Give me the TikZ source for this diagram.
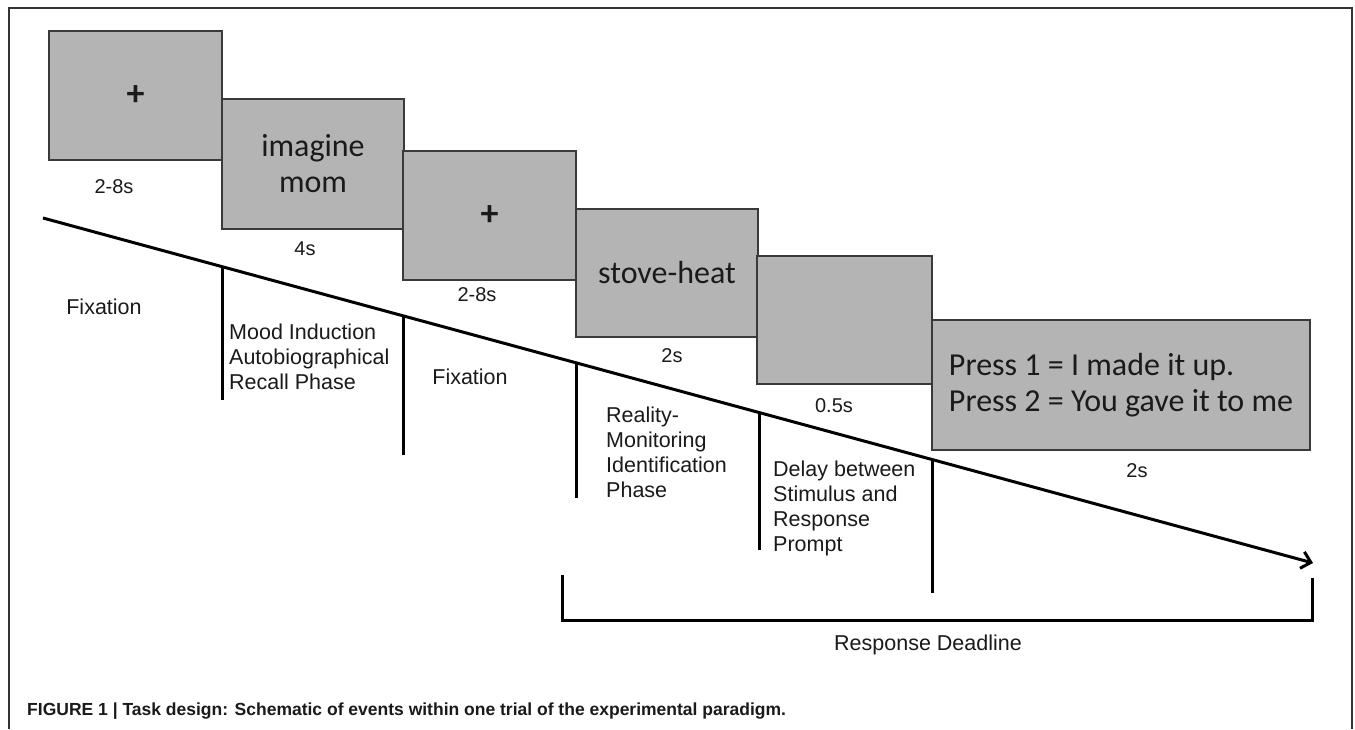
\documentclass[tikz,border=0pt]{standalone}
\usepackage{fontspec}
\setmainfont{Liberation Sans}
\newfontfamily\calib{Carlito}
\usetikzlibrary{arrows.meta}
\definecolor{boxfill}{HTML}{B4B4B4}
\definecolor{boxline}{HTML}{3A3A3A}
\definecolor{ink}{HTML}{1A1A1A}
\definecolor{framecol}{HTML}{333333}
\begin{document}
\begin{tikzpicture}[x=1pt,y=-1pt,
  screen/.style={draw=boxline, fill=boxfill, line width=2pt, inner sep=0pt,
    font=\calib\fontsize{32}{36}\selectfont, text=ink},
  plus/.style={font=\calib\bfseries\fontsize{36}{36}\selectfont},
  dur/.style={font=\fontsize{20}{24}\selectfont, anchor=base, inner sep=0pt, text=ink},
  phase/.style={font=\fontsize{21.5}{25}\selectfont, anchor=north west, align=left,
    inner sep=0pt, text=ink},
  phaseone/.style={font=\fontsize{21.5}{25}\selectfont, anchor=base, inner sep=0pt, text=ink},
  timeline/.style={line width=3pt, black},
  tickline/.style={line width=3pt, black, line join=miter},
]
\useasboundingbox (0,0) rectangle (1355,729);
\fill[white] (0,0) rectangle (1355,729);

% frame
\coordinate (f1) at (9,729);
\coordinate (f2) at (9,8);
\coordinate (f3) at (1352,8);
\coordinate (f4) at (1352,729);
\draw[framecol, line width=1.5pt] (f1) -- (f2) -- (f3) -- (f4);

% screens
\node[screen, plus, minimum width=173pt, minimum height=129pt] (s1) at (135.5,95.5) {+};
\node[screen, minimum width=182pt, minimum height=130pt, align=center] (s2) at (313,164) {imagine\\mom};
\node[screen, plus, minimum width=173pt, minimum height=129pt] (s3) at (489.5,215.5) {+};
\node[screen, minimum width=182pt, minimum height=128pt] (s4) at (667,273) {stove-heat};
\node[screen, minimum width=175pt, minimum height=128pt] (s5) at (844.5,320) {};
\node[screen, minimum width=378pt, minimum height=130pt, align=left] (s6) at (1121,385)
  {Press 1 = I made it up.\\Press 2 = You gave it to me};

% durations
\node[dur] (d1) at (114,193) {2-8s};
\node[dur] (d2) at (305,255) {4s};
\node[dur] (d3) at (477,301) {2-8s};
\node[dur] (d4) at (672,362) {2s};
\node[dur] (d5) at (834,412) {0.5s};
\node[dur] (d6) at (1137,477) {2s};

% timeline
\coordinate (ls) at (43,218);
\coordinate (le) at (1313,563);
\draw[timeline, -{Straight Barb[length=9pt,width=17pt,line width=3pt]}] (ls) -- (le);

% ticks
\coordinate (t1a) at (222,266.6); \coordinate (t1b) at (222,400);
\coordinate (t2a) at (403,315.8); \coordinate (t2b) at (403,455);
\coordinate (t3a) at (576,362.8); \coordinate (t3b) at (576,498);
\coordinate (t4a) at (759,412.5); \coordinate (t4b) at (759,550);
\coordinate (t5a) at (932,459.5); \coordinate (t5b) at (932,593);
\draw[tickline] (t1a) -- (t1b);
\draw[tickline] (t2a) -- (t2b);
\draw[tickline] (t3a) -- (t3b);
\draw[tickline] (t4a) -- (t4b);
\draw[tickline] (t5a) -- (t5b);

% phase labels
\node[phaseone] (p1) at (104,314.5) {Fixation};
\node[phase] (p2) at (229,324) {Mood Induction\\Autobiographical\\Recall Phase};
\node[phaseone] (p3) at (470,384.5) {Fixation};
\node[phase] (p4) at (606,407) {Reality-\\Monitoring\\Identification\\Phase};
\node[phase] (p5) at (773,461) {Delay between\\Stimulus and\\Response\\Prompt};

% bracket
\coordinate (bl) at (562,575);
\coordinate (blb) at (562,620);
\coordinate (brb) at (1312,620);
\coordinate (br) at (1312,578);
\draw[tickline] (bl) -- (blb) -- (brb) -- (br);
\node[dur, font=\fontsize{21.5}{24}\selectfont] (rd) at (928,650) {Response Deadline};

% caption
\node[anchor=base west, inner sep=0pt, text=ink, font=\bfseries\fontsize{17.5}{20}\selectfont] (cap) at (27,715)
  {FIGURE 1 | Task design: Schematic of events within one trial of the experimental paradigm.};
\end{tikzpicture}
\end{document}
